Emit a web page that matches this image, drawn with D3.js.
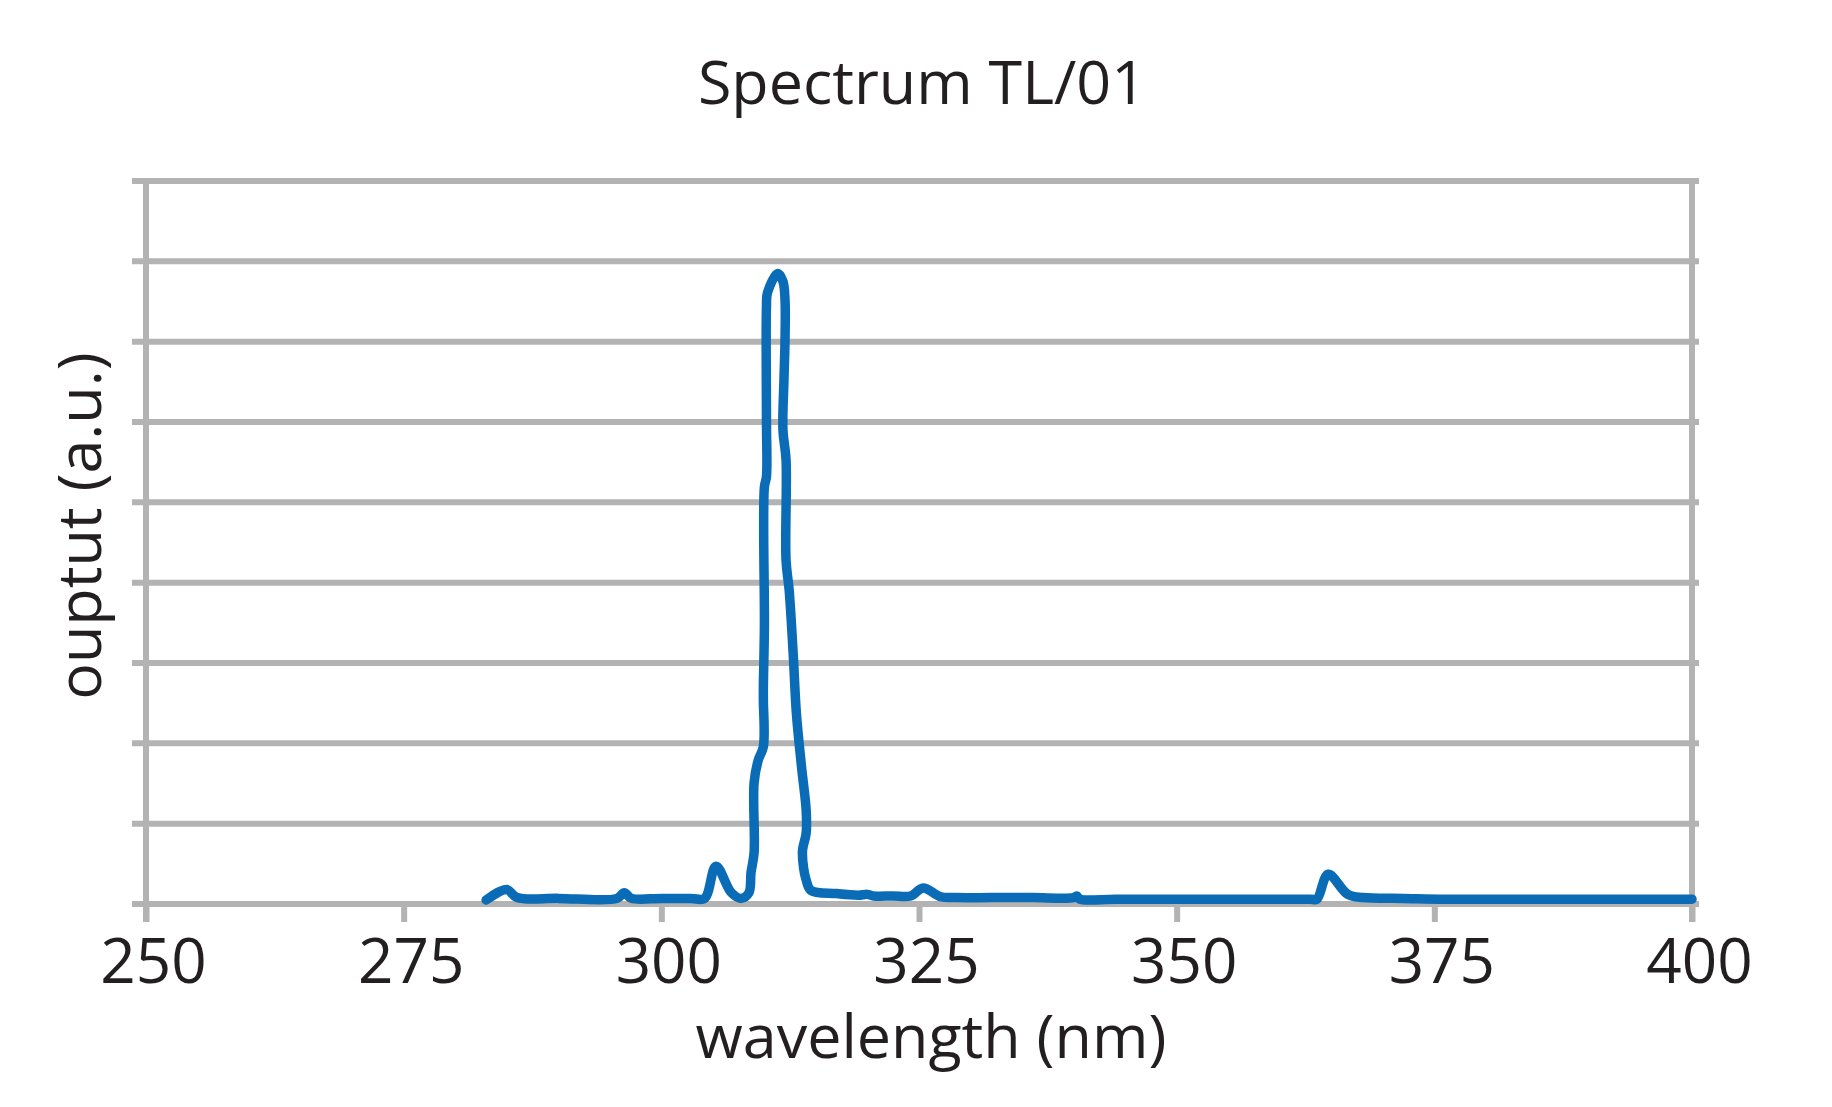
<!DOCTYPE html>
<html>
<head>
<meta charset="utf-8">
<script src="https://cdn.jsdelivr.net/npm/d3@7"></script>
<style>
    body { margin: 0; background: #fff; }
    text { font-family: "Open Sans", sans-serif; fill: #231f20; }
</style>
</head>
<body>
<div id="okvir"></div>
<script>
// spectrum: wavelength (nm) and output (a.u., one grid step = 1)
var wavelength = [283.0, 285.0, 286.0, 290.0, 295.7, 296.4, 297.1, 300.0, 302.9, 304.2,
    305.3, 306.8, 307.75, 308.5, 308.7, 309.0, 309.0, 309.4, 309.9, 309.9,
    309.9, 310.0, 310.0, 310.2, 310.2, 310.2, 310.3, 311.3, 311.8, 312.0,
    312.0, 311.9, 311.8, 312.1, 312.1, 312.4, 312.8, 313.1, 313.6, 314.05,
    314.05, 313.7, 313.8, 314.05, 314.5, 317.0, 319.1, 320.0, 320.6, 322.5,
    324.2, 325.4, 327.1, 328.6, 332.0, 336.0, 340.0, 340.3, 340.6, 344.0,
    348.0, 352.0, 356.0, 360.0, 363.0, 363.6, 364.7, 366.6, 368.1, 372.0,
    376.0, 382.0, 388.0, 394.0, 400];
var output = [0.05, 0.18, 0.08, 0.07, 0.07, 0.14, 0.07, 0.07, 0.07, 0.07,
    0.47, 0.14, 0.07, 0.14, 0.39, 0.64, 1.51, 1.79, 1.96, 2.54,
    2.70, 3.45, 5.19, 5.32, 6.03, 7.43, 7.61, 7.85, 7.75, 7.52,
    7.02, 6.53, 5.90, 5.53, 4.28, 3.91, 3.10, 2.38, 1.71, 1.17,
    0.88, 0.67, 0.45, 0.30, 0.17, 0.13, 0.11, 0.12, 0.10, 0.10,
    0.10, 0.20, 0.09, 0.08, 0.08, 0.08, 0.08, 0.10, 0.06, 0.06,
    0.06, 0.06, 0.06, 0.06, 0.06, 0.06, 0.37, 0.12, 0.08, 0.07,
    0.06, 0.06, 0.06, 0.06, 0.06];
var xTicks = [250, 275, 300, 325, 350, 375, 400];
var yTicks = [0, 1, 2, 3, 4, 5, 6, 7, 8, 9];

var title = "Spectrum TL/01";
var xTitle = "wavelength (nm)";
var yTitle = "ouptut (a.u.)";

var width = 1832;
var height = 1107;
var margin = { top: 181, right: 140, bottom: 203, left: 146 };
var grey = "#b3b3b3";
var blue = "#0a6cb6";

var data = wavelength.map((w, i) => ({ w: w, v: output[i] }));

var svg = d3.select("#okvir")
    .append("svg")
    .attr("width", width)
    .attr("height", height);

var x = d3.scaleLinear()
    .domain([250, 400])
    .range([margin.left, width - margin.right]);

var y = d3.scaleLinear()
    .domain([0, 9])
    .range([height - margin.bottom, margin.top]);

// horizontal grid lines (with small tick stubs on the left)
svg.append("g")
    .selectAll("line")
    .data(yTicks)
    .enter()
    .append("line")
    .attr("x1", margin.left - 14)
    .attr("x2", width - margin.right + 7)
    .attr("y1", d => y(d))
    .attr("y2", d => y(d))
    .attr("stroke", grey)
    .attr("stroke-width", 6);

// left and right frame
svg.append("g")
    .selectAll("line")
    .data([250, 400])
    .enter()
    .append("line")
    .attr("x1", d => x(d))
    .attr("x2", d => x(d))
    .attr("y1", margin.top)
    .attr("y2", y(0) + 18)
    .attr("stroke", grey)
    .attr("stroke-width", 6);

// x axis
var xAxis = svg.append("g")
    .attr("transform", "translate(0," + y(0) + ")")
    .call(d3.axisBottom(x).tickValues(xTicks).tickSize(18).tickPadding(17).tickFormat(d3.format("d")));
xAxis.select(".domain").remove();
xAxis.selectAll("line")
    .attr("stroke", grey)
    .attr("stroke-width", 6);
xAxis.selectAll("text")
    .attr("dx", 7)
    .style("font-size", "62px")
    .style("fill", "#231f20");

// spectrum line
var line = d3.line()
    .x(d => x(d.w))
    .y(d => y(d.v))
    .curve(d3.curveCatmullRom.alpha(0.5));

svg.append("path")
    .datum(data)
    .attr("d", line)
    .attr("fill", "none")
    .attr("stroke", blue)
    .attr("stroke-width", 9.5)
    .attr("stroke-linejoin", "round")
    .attr("stroke-linecap", "round");

// title
svg.append("text")
    .attr("x", 922)
    .attr("y", 104)
    .attr("text-anchor", "middle")
    .style("font-size", "61px")
    .text(title);

// x axis title
svg.append("text")
    .attr("x", 931)
    .attr("y", 1058)
    .attr("text-anchor", "middle")
    .style("font-size", "61px")
    .text(xTitle);

// y axis title
svg.append("text")
    .attr("transform", "translate(101," + 526 + ") rotate(-90)")
    .attr("text-anchor", "middle")
    .style("font-size", "61px")
    .text(yTitle);
</script>
</body>
</html>
